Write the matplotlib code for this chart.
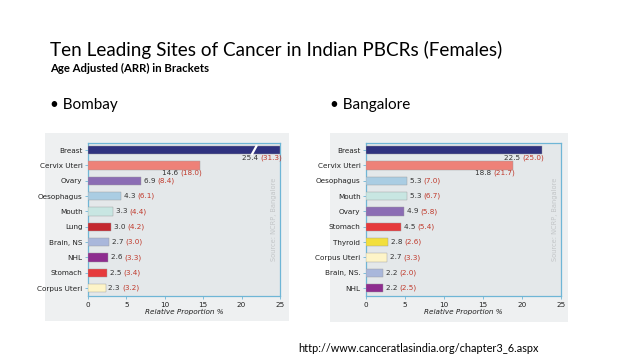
import matplotlib
matplotlib.use("Agg")
import matplotlib.pyplot as plt
from matplotlib.patches import Rectangle

W, H = 638, 359
DPI = 100

# ---------------- data ----------------
bombay_sites = ["Breast", "Cervix Uteri", "Ovary", "Oesophagus", "Mouth", "Lung",
                "Brain, NS", "NHL", "Stomach", "Corpus Uteri"]
bombay_rel = [25.4, 14.6, 6.9, 4.3, 3.3, 3.0, 2.7, 2.6, 2.5, 2.3]
bombay_arr = [31.3, 18.0, 8.4, 6.1, 4.4, 4.2, 3.0, 3.3, 3.4, 3.2]

bangalore_sites = ["Breast", "Cervix Uteri", "Oesophagus", "Mouth", "Ovary", "Stomach",
                   "Thyroid", "Corpus Uteri", "Brain, NS.", "NHL"]
bangalore_rel = [22.5, 18.8, 5.3, 5.3, 4.9, 4.5, 2.8, 2.7, 2.2, 2.2]
bangalore_arr = [25.0, 21.7, 7.0, 6.7, 5.8, 5.4, 2.6, 3.3, 2.0, 2.5]

x_ticks = [0, 5, 10, 15, 20, 25]

site_colors = {
    "Breast": "#2f327f",
    "Cervix Uteri": "#ee8178",
    "Ovary": "#8b6db4",
    "Oesophagus": "#aacde3",
    "Mouth": "#c8e6e2",
    "Lung": "#c4282f",
    "Brain, NS": "#a9b7db",
    "Brain, NS.": "#a9b7db",
    "NHL": "#8e2d8f",
    "Stomach": "#e63a3c",
    "Corpus Uteri": "#fdf4c8",
    "Thyroid": "#f2df3c",
}

fig = plt.figure(figsize=(W / DPI, H / DPI), dpi=DPI)
fig.patch.set_facecolor("white")

def px_rect(x0, y0, x1, y1):
    return [x0 / W, 1 - y1 / H, (x1 - x0) / W, (y1 - y0) / H]

# panel backgrounds
for (x0, y0, x1, y1) in [(45, 133, 289, 321), (330, 133, 568, 322)]:
    fig.patches.append(Rectangle((x0 / W, 1 - y1 / H), (x1 - x0) / W, (y1 - y0) / H,
                                 transform=fig.transFigure, facecolor="#eef0f1",
                                 edgecolor="none", zorder=-5))

spine_col = "#6fb6d6"
num_col = "#333333"
arr_col = "#c0392b"
small = 5.2

def draw_chart(rect, sites, rel, arr, below_idx, break_bar=False):
    ax = fig.add_axes(rect)
    ax.set_zorder(3)
    ax.set_facecolor("#e4e8ea")
    ys = list(range(len(sites)))
    for i, (s, v) in enumerate(zip(sites, rel)):
        vv = min(v, 25)
        ax.barh(i, vv, height=0.54, color=site_colors[s], edgecolor="#9a9a9a",
                linewidth=0.3, zorder=3)
    ax.set_xlim(0, 25)
    ax.set_ylim(9.52, -0.46)
    ax.set_yticks(ys)
    ax.set_yticklabels(sites, fontsize=small, color="#222222")
    ax.set_xticks(x_ticks)
    ax.set_xticklabels([str(t) for t in x_ticks], fontsize=small, color="#222222")
    ax.tick_params(axis="both", length=2.5, width=0.6, color=spine_col, pad=1.5)
    for sp in ax.spines.values():
        sp.set_color(spine_col)
        sp.set_linewidth(0.9)
    ax.set_xlabel("Relative Proportion %", fontsize=small, style="italic",
                  color="#222222", labelpad=1)
    for i, (v, a) in enumerate(zip(rel, arr)):
        if i in below_idx:
            xe = min(v, 25)
            ax.annotate(f"{v:.1f} ", xy=(xe, i + 0.30), xytext=(-14, 0),
                        textcoords="offset points", fontsize=small, color=num_col,
                        ha="right", va="top", zorder=5)
            ax.annotate(f"({a:.1f})", xy=(xe, i + 0.30), xytext=(-14, 0),
                        textcoords="offset points", fontsize=small, color=arr_col,
                        ha="left", va="top", zorder=5)
        else:
            t = ax.annotate(f"{v:.1f} ", xy=(v, i), xytext=(2, 0),
                            textcoords="offset points", fontsize=small, color=num_col,
                            ha="left", va="center", zorder=5)
            ax.annotate(f"({a:.1f})", xy=(1, 0.5), xycoords=t,
                        xytext=(0, 0), textcoords="offset points",
                        fontsize=small, color=arr_col, ha="left", va="center", zorder=5)
    if break_bar:
        ax.plot([21.3, 22.0], [0.32, -0.32], color="white", lw=1.6, zorder=4,
                solid_capstyle="butt")
    ax.text(0.97, 0.5, "Source: NCRP, Bangalore", transform=ax.transAxes,
            rotation=90, fontsize=4.8, color="#c3c6c8", ha="center", va="center",
            zorder=2)
    return ax

draw_chart(px_rect(88, 143, 280, 296), bombay_sites, bombay_rel, bombay_arr,
           below_idx=[0, 1], break_bar=True)
draw_chart(px_rect(366, 143, 561, 296), bangalore_sites, bangalore_rel, bangalore_arr,
           below_idx=[0, 1])

title_font = ["Lato", "DejaVu Sans"]
fig.text(50 / W, 1 - 50 / H, "Ten Leading Sites of Cancer in Indian PBCRs (Females)",
         fontsize=13.6, family=title_font, color="black", ha="left", va="center")
fig.text(50 / W, 1 - 68 / H, "Age Adjusted (ARR) in Brackets",
         fontsize=8.2, family=title_font, weight="bold", color="black",
         ha="left", va="center")
fig.text(50 / W, 1 - 105 / H, "\u2022 Bombay", fontsize=11, family=title_font,
         color="black", ha="left", va="center")
fig.text(330 / W, 1 - 105 / H, "\u2022 Bangalore", fontsize=11, family=title_font,
         color="black", ha="left", va="center")
fig.text(298 / W, 1 - 348 / H, "http://www.canceratlasindia.org/chapter3_6.aspx",
         fontsize=7.8, family=title_font, color="black",
         ha="left", va="center")

fig.savefig("out.png", dpi=DPI)
